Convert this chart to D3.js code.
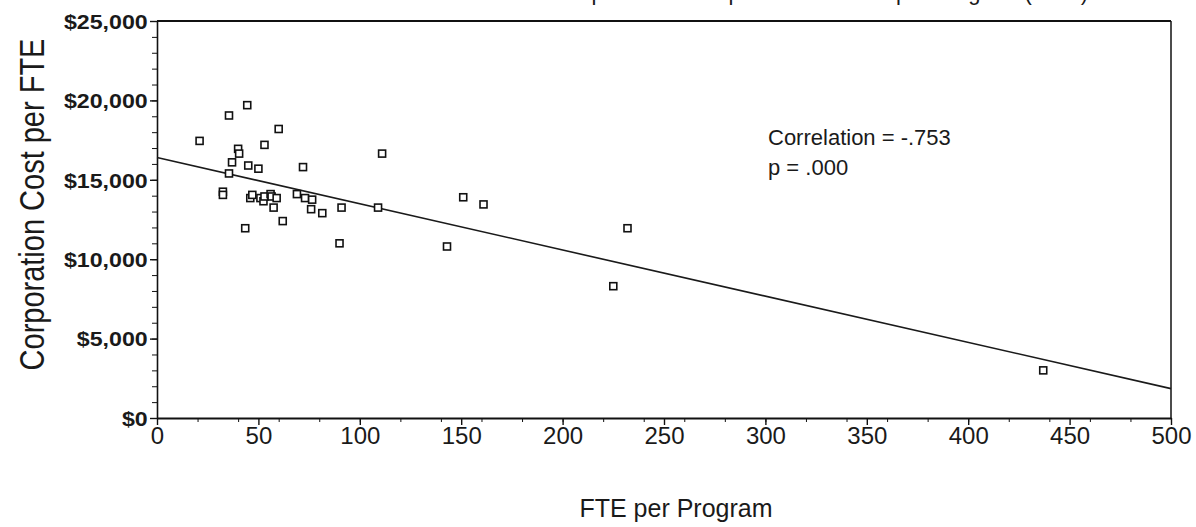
<!DOCTYPE html>
<html>
<head>
<meta charset="utf-8">
<script src="https://cdn.jsdelivr.net/npm/d3@7.9.0/dist/d3.min.js"></script>
<style>
  body { margin: 0; background: #fff; }
  svg { display: block; font-family: "Liberation Sans", Arial, sans-serif; }
  .axis path, .axis line { stroke: #111; }
</style>
</head>
<body>
<svg width="1196" height="527"></svg>
<script>
// FTE per program (x) and corporation cost per FTE (y)
const ftePerProgram = [21, 35.5, 44.5, 60, 53, 40, 40.5, 37, 45, 50, 35.5, 72, 111,
  32.5, 32.5, 46, 47, 51, 52.5, 53, 56, 56.5, 59, 57.5, 62, 43.5, 69, 73, 76.5, 76,
  81.5, 91, 90, 109, 151, 161, 143, 232, 225, 437];
const costPerFte = [17450, 19050, 19700, 18200, 17200, 16950, 16650, 16100, 15900, 15700,
  15400, 15800, 16650, 14250, 14050, 13850, 14050, 13850, 13650, 13950, 14100, 13950,
  13850, 13250, 12400, 11950, 14100, 13850, 13750, 13150, 12900, 13250, 11000, 13250,
  13900, 13450, 10800, 11950, 8300, 3000];

// fitted regression line
const fitIntercept = 16400;
const fitSlope = -29.1;

const xTicks = [0, 50, 100, 150, 200, 250, 300, 350, 400, 450, 500];
const yTicks = [0, 5000, 10000, 15000, 20000, 25000];
const statsLines = ['Correlation = -.753', 'p = .000'];

const svg = d3.select('svg');
const margin = { left: 157, right: 25, top: 21, bottom: 109 };
const W = 1196, H = 527;

const x = d3.scaleLinear().domain([0, 500]).range([margin.left, W - margin.right]);
const y = d3.scaleLinear().domain([0, 25000]).range([H - margin.bottom, margin.top]);

// frame: top and right edges
svg.append('line')
  .attr('x1', x(0)).attr('x2', x(500)).attr('y1', y(25000)).attr('y2', y(25000))
  .attr('stroke', '#111').attr('stroke-width', 2.2);
svg.append('line')
  .attr('x1', x(500)).attr('x2', x(500)).attr('y1', y(25000)).attr('y2', y(0))
  .attr('stroke', '#111').attr('stroke-width', 1.5);

// minor ticks
svg.append('g').attr('class', 'axis')
  .attr('transform', `translate(${x(0)},0)`)
  .call(d3.axisLeft(y).ticks(25).tickSize(5).tickFormat(''))
  .call(g => g.select('.domain').remove());
svg.append('g').attr('class', 'axis')
  .attr('transform', `translate(0,${y(0)})`)
  .call(d3.axisBottom(x).ticks(20).tickSize(4).tickFormat(''))
  .call(g => g.select('.domain').remove());

// y axis
const yAxis = svg.append('g').attr('class', 'axis')
  .attr('transform', `translate(${x(0)},0)`)
  .call(d3.axisLeft(y).tickValues(yTicks).tickSize(7).tickSizeOuter(0)
    .tickFormat(d => '$' + d3.format(',')(d)));
yAxis.select('.domain').attr('stroke-width', 1.6);
yAxis.selectAll('.tick line').attr('stroke-width', 1.4);
yAxis.selectAll('text')
  .attr('font-size', 20).attr('font-weight', 'bold').attr('fill', '#1a1a1a')
  .attr('font-family', '"Liberation Sans", Arial, sans-serif')
  .attr('dy', '0.36em').attr('x', -8)
  .attr('transform', 'scale(1.16,1)');

// x axis
const xAxis = svg.append('g').attr('class', 'axis')
  .attr('transform', `translate(0,${y(0)})`)
  .call(d3.axisBottom(x).tickValues(xTicks).tickSize(7).tickSizeOuter(0));
xAxis.select('.domain').attr('stroke-width', 1.8);
xAxis.selectAll('.tick line').attr('stroke-width', 1.4);
xAxis.selectAll('text')
  .attr('font-size', 24).attr('fill', '#1a1a1a')
  .attr('font-family', '"Liberation Sans", Arial, sans-serif')
  .attr('y', 9);

// regression line
svg.append('line')
  .attr('x1', x(0)).attr('y1', y(fitIntercept))
  .attr('x2', x(500)).attr('y2', y(fitIntercept + fitSlope * 500))
  .attr('stroke', '#1a1a1a').attr('stroke-width', 1.6);

// points
const pts = ftePerProgram.map((v, i) => ({ fte: v, cost: costPerFte[i] }));
svg.append('g').selectAll('rect')
  .data(pts)
  .join('rect')
  .attr('x', d => x(d.fte) - 3.5)
  .attr('y', d => y(d.cost) - 3.5)
  .attr('width', 7).attr('height', 7)
  .attr('fill', '#fff').attr('stroke', '#111').attr('stroke-width', 1.6);

// stats
svg.append('g').selectAll('text')
  .data(statsLines)
  .join('text')
  .attr('x', 768)
  .attr('y', (d, i) => 145 + i * 30)
  .attr('font-size', 22).attr('fill', '#1a1a1a')
  .text(d => d);

// axis titles
svg.append('text')
  .attr('x', 676).attr('y', 517)
  .attr('text-anchor', 'middle').attr('font-size', 25).attr('fill', '#1a1a1a')
  .text('FTE per Program');
svg.append('text')
  .attr('transform', `translate(44,${(y(0) + y(25000)) / 2 - 15}) scale(1.2,1) rotate(-90)`)
  .attr('text-anchor', 'middle').attr('font-size', 29).attr('fill', '#1a1a1a')
  .text('Corporation Cost per FTE');

// chart title, mostly cut off at the top edge as in the source
svg.append('text')
  .attr('x', 1088).attr('y', 0)
  .attr('text-anchor', 'end').attr('font-size', 22).attr('fill', '#1a1a1a')
  .text('Corporation Cost per FTE vs. FTE per Program (1992)');
</script>
</body>
</html>
